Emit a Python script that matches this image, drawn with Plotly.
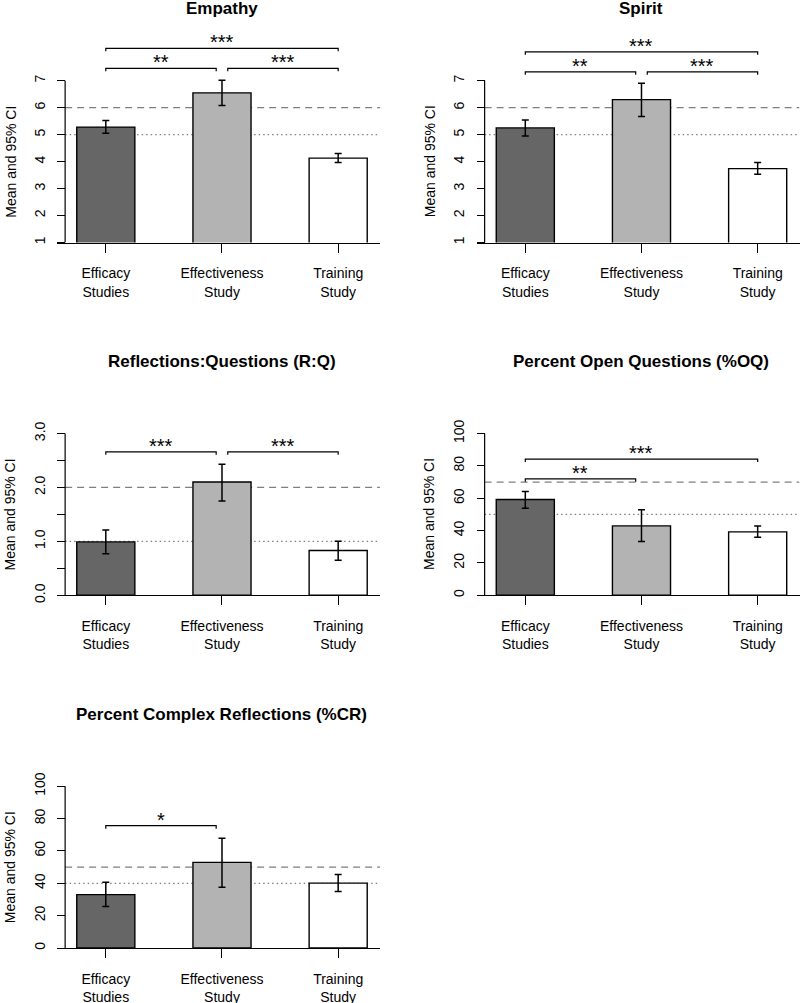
import plotly.graph_objects as go

W, H = 800, 1003
FONT = "Liberation Sans, Arial, sans-serif"

groups = ["Efficacy<br>Studies", "Effectiveness<br>Study", "Training<br>Study"]
bar_colors = ["#666666", "#b3b3b3", "#ffffff"]

# mean and 95% CI bounds per measure
empathy_mean = [5.28, 6.55, 4.13]
empathy_hi = [5.52, 7.02, 4.30]
empathy_lo = [5.05, 6.08, 3.97]

spirit_mean = [5.25, 6.30, 3.74]
spirit_hi = [5.54, 6.91, 3.97]
spirit_lo = [4.95, 5.67, 3.53]

rq_mean = [0.99, 2.10, 0.83]
rq_hi = [1.21, 2.43, 1.00]
rq_lo = [0.77, 1.75, 0.65]

oq_mean = [59.2, 42.9, 39.2]
oq_hi = [64.1, 52.8, 42.9]
oq_lo = [53.8, 33.2, 35.9]

cr_mean = [33.0, 52.9, 40.1]
cr_hi = [40.6, 67.8, 45.5]
cr_lo = [25.6, 37.6, 34.9]

# y scales
likert_ticks = [1, 2, 3, 4, 5, 6, 7]
likert_labels = ["1", "2", "3", "4", "5", "6", "7"]
rq_ticks = [0, 0.5, 1, 1.5, 2, 2.5, 3]
rq_labels = ["0.0", "", "1.0", "", "2.0", "", "3.0"]
pct_ticks = [0, 20, 40, 60, 80, 100]
pct_labels = ["0", "20", "40", "60", "80", "100"]

# (bar i, bar j, height, label)
empathy_sig = [(0, 1, 7.46, "**"), (1, 2, 7.46, "***"), (0, 2, 8.20, "***")]
spirit_sig = [(0, 1, 7.33, "**"), (1, 2, 7.33, "***"), (0, 2, 8.07, "***")]
rq_sig = [(0, 1, 2.66, "***"), (1, 2, 2.66, "***")]
oq_sig = [(0, 1, 72.0, "**"), (0, 2, 84.2, "***")]
cr_sig = [(0, 1, 75.6, "*")]

panels = [
    dict(title="Empathy", mean=empathy_mean, hi=empathy_hi, lo=empathy_lo,
         ylim=(1, 7), ticks=likert_ticks, labels=likert_labels,
         dashed=6, dotted=5, sig=empathy_sig, row=0, col=0),
    dict(title="Spirit", mean=spirit_mean, hi=spirit_hi, lo=spirit_lo,
         ylim=(1, 7), ticks=likert_ticks, labels=likert_labels,
         dashed=6, dotted=5, sig=spirit_sig, row=0, col=1),
    dict(title="Reflections:Questions (R:Q)", mean=rq_mean, hi=rq_hi, lo=rq_lo,
         ylim=(0, 3), ticks=rq_ticks, labels=rq_labels,
         dashed=2, dotted=1, sig=rq_sig, row=1, col=0),
    dict(title="Percent Open Questions (%OQ)", mean=oq_mean, hi=oq_hi, lo=oq_lo,
         ylim=(0, 100), ticks=pct_ticks, labels=pct_labels,
         dashed=70, dotted=50, sig=oq_sig, row=1, col=1),
    dict(title="Percent Complex Reflections (%CR)", mean=cr_mean, hi=cr_hi, lo=cr_lo,
         ylim=(0, 100), ticks=pct_ticks, labels=pct_labels,
         dashed=50, dotted=40, sig=cr_sig, row=2, col=0),
]

# page geometry in pixels
col_left = [57, 476.5]
col_w = 323
row_bottom = [242.5, 595.3, 948.0]
data_h = 161.8
pad = 50
title_y = [8.5, 361, 714]
XR = [-0.42, 2.36]
AXIS_X = -0.35

fig = go.Figure()
layout = dict(
    width=W, height=H, margin=dict(l=0, r=0, t=0, b=0),
    paper_bgcolor="white", plot_bgcolor="white",
    showlegend=False, font=dict(family=FONT, size=14, color="black"),
    shapes=[], annotations=[],
)

for k, p in enumerate(panels, start=1):
    xa, ya = f"x{k}", f"y{k}"
    left = col_left[p["col"]]
    bottom = row_bottom[p["row"]]
    ylo, yhi = p["ylim"]
    per_px = (yhi - ylo) / data_h
    ytop = yhi + pad * per_px
    axis_pos = (left + (AXIS_X - XR[0]) / (XR[1] - XR[0]) * col_w) / W

    fig.add_trace(go.Bar(
        x=[0, 1, 2], y=p["mean"], width=0.5,
        marker=dict(color=bar_colors, line=dict(color="black", width=1.4)),
        error_y=dict(
            type="data", symmetric=False,
            array=[h - m for h, m in zip(p["hi"], p["mean"])],
            arrayminus=[m - l for m, l in zip(p["mean"], p["lo"])],
            color="black", thickness=1.5, width=3.5,
        ),
        xaxis=xa, yaxis=ya, hoverinfo="skip",
    ))

    # significance brackets
    hook = 3 * per_px
    for i, j, yb, lab in p["sig"]:
        x0 = i + (0.05 if i == 1 else 0)
        x1 = j - (0.05 if j == 1 else 0)
        fig.add_trace(go.Scatter(
            x=[x0, x0, x1, x1], y=[yb - hook, yb, yb, yb - hook],
            mode="lines", line=dict(color="black", width=1.2),
            xaxis=xa, yaxis=ya, hoverinfo="skip",
        ))
        layout["annotations"].append(dict(
            x=(x0 + x1) / 2, y=yb, xref=xa, yref=ya, text=lab,
            showarrow=False, yanchor="bottom", yshift=-7,
            font=dict(size=20, color="black", family=FONT),
        ))

    layout["shapes"] += [
        dict(type="line", xref=xa, yref=ya, x0=AXIS_X, x1=XR[1],
             y0=p["dashed"], y1=p["dashed"], layer="below",
             line=dict(color="#7f7f7f", width=1.3, dash="7px,5px")),
        dict(type="line", xref=xa, yref=ya, x0=AXIS_X, x1=XR[1],
             y0=p["dotted"], y1=p["dotted"], layer="below",
             line=dict(color="#7f7f7f", width=1.3, dash="1.5px,3px")),
        dict(type="line", xref="paper", yref=ya, x0=axis_pos, x1=axis_pos,
             y0=ylo, y1=yhi, line=dict(color="black", width=1.2)),
    ]

    layout["annotations"] += [
        dict(x=1, y=1 - title_y[p["row"]] / H, xref=xa, yref="paper",
             text=f"<b>{p['title']}</b>", showarrow=False,
             xanchor="center", yanchor="middle",
             font=dict(size=17, color="black", family=FONT)),
        dict(x=axis_pos - 55 / W, y=1 - (bottom - data_h / 2) / H,
             xref="paper", yref="paper", text="Mean and 95% CI",
             textangle=-90, showarrow=False, xanchor="center", yanchor="middle",
             font=dict(size=14, color="black", family=FONT)),
    ]

    layout[f"xaxis{k}"] = dict(
        domain=[left / W, min((left + col_w) / W, 1.0)], range=XR,
        anchor=ya, tickvals=[0, 1, 2], ticktext=groups,
        ticks="outside", ticklen=9, tickwidth=1.2, tickcolor="black",
        showline=True, linecolor="black", linewidth=1.2,
        showgrid=False, zeroline=False, automargin=False,
        ticklabelstandoff=9, tickfont=dict(size=14, color="black"),
        fixedrange=True,
    )
    layout[f"yaxis{k}"] = dict(
        domain=[1 - bottom / H, 1 - (bottom - data_h - pad) / H],
        range=[ylo, ytop], anchor="free", position=axis_pos,
        tickvals=p["ticks"], ticktext=p["labels"], tickangle=-90,
        ticks="outside", ticklen=8, tickwidth=1.2, tickcolor="black",
        showline=False, showgrid=False, zeroline=False, automargin=False,
        ticklabelstandoff=7, tickfont=dict(size=14, color="black"),
        fixedrange=True,
    )

fig.update_layout(**layout)
# the page body has a default 8px margin; drop it so the figure fills the window
fig.write_html(
    "out.html",
    config={"displayModeBar": False},
    post_script="document.body.style.margin = '0';",
)
